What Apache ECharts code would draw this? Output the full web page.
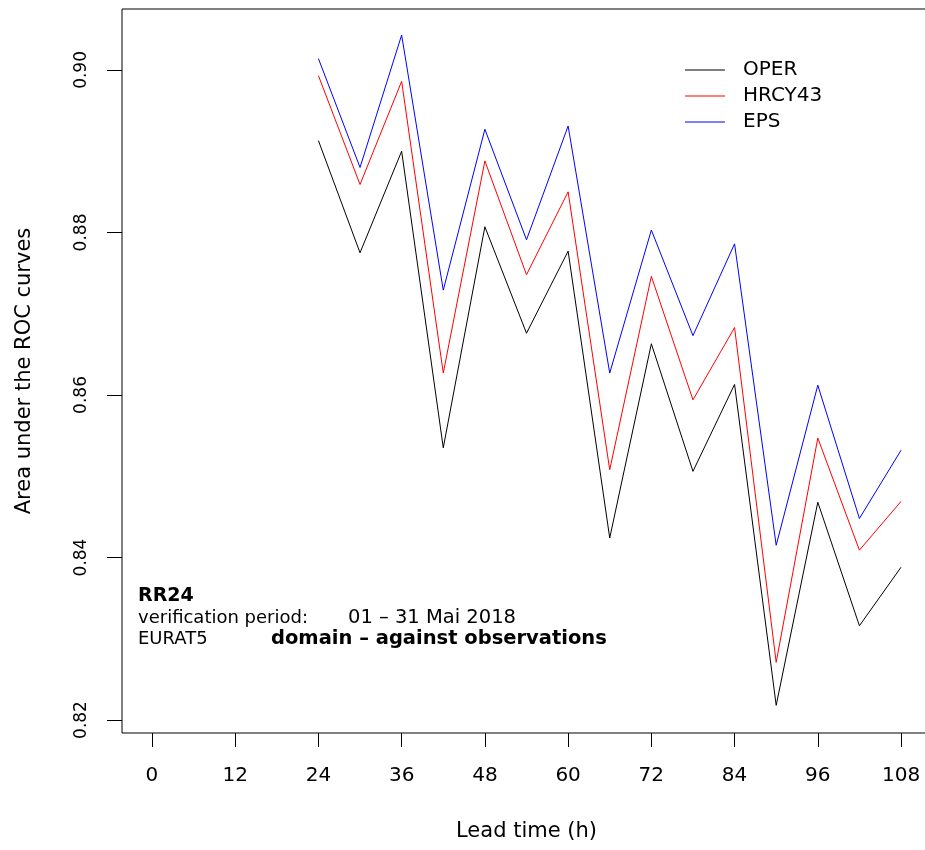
<!doctype html>
<html>
<head>
  <meta charset="UTF-8" />
  <title>ROC area - RR24</title>
  <script src="https://cdn.jsdelivr.net/npm/echarts@6.0.0/dist/echarts.min.js"></script>
  <style>
    html, body { margin: 0; padding: 0; background: #ffffff; }
    #chart { width: 925px; height: 850px; }
  </style>
</head>
<body>
  <div id="chart"></div>
  <script>
    // lead times (h) and area under ROC curve per system
    const leadTimes = [24, 30, 36, 42, 48, 54, 60, 66, 72, 78, 84, 90, 96, 102, 108];
    const oper = [0.8913, 0.8775, 0.8900, 0.8535, 0.8807, 0.8676, 0.8777, 0.8424, 0.8663, 0.8506, 0.8613, 0.8218, 0.8468, 0.8316, 0.8388];
    const hrcy43 = [0.8993, 0.8859, 0.8986, 0.8627, 0.8888, 0.8748, 0.8850, 0.8508, 0.8746, 0.8594, 0.8683, 0.8271, 0.8547, 0.8409, 0.8469];
    const eps = [0.9014, 0.8880, 0.9043, 0.8729, 0.8927, 0.8791, 0.8931, 0.8627, 0.8803, 0.8673, 0.8786, 0.8415, 0.8612, 0.8448, 0.8532];

    const seriesNames = ["OPER", "HRCY43", "EPS"];
    const seriesColors = ["#000000", "#ff0000", "#0000ff"];
    const xTicks = [0, 12, 24, 36, 48, 60, 72, 84, 96, 108];
    const yTicks = [0.82, 0.84, 0.86, 0.88, 0.90];

    const font = "DejaVu Sans, Liberation Sans, sans-serif";
    var chart = echarts.init(document.getElementById("chart"));

    const toPairs = (vals) => leadTimes.map((t, i) => [t, vals[i]]);

    // small text block in the lower left corner
    const noteText = (left, y, text, size, bold) => ({
      type: "text",
      x: left,
      y: y,
      style: {
        text: text,
        fontFamily: font,
        fontSize: size,
        fontWeight: bold ? "bold" : "normal",
        fill: "#000000",
        verticalAlign: "middle",
      },
    });

    var chartOption = {
      animation: false,
      backgroundColor: "#ffffff",
      grid: {
        left: 122,
        top: 9,
        right: -6,
        height: 724,
        show: true,
        borderColor: "#000000",
        borderWidth: 1,
        outerBoundsMode: "none",
        containLabel: false,
      },
      legend: {
        orient: "vertical",
        left: 680,
        top: 55,
        icon: "rect",
        itemWidth: 40,
        itemHeight: 1,
        itemGap: 6,
        data: seriesNames,
        textStyle: {
          fontFamily: font,
          fontSize: 20,
          color: "#000000",
          padding: [0, 0, 0, 13],
        },
      },
      xAxis: {
        type: "value",
        min: -4.32,
        max: 112.32,
        name: "Lead time (h)",
        nameLocation: "middle",
        nameGap: 88,
        nameTextStyle: { fontFamily: font, fontSize: 21, color: "#000000" },
        axisLine: { show: false, onZero: false },
        splitLine: { show: false },
        axisTick: {
          show: true,
          inside: false,
          length: 14,
          customValues: xTicks,
          lineStyle: { color: "#000000" },
        },
        axisLabel: {
          customValues: xTicks,
          margin: 33,
          fontFamily: font,
          fontSize: 20,
          color: "#000000",
        },
      },
      yAxis: {
        type: "value",
        min: 0.8184,
        max: 0.9075,
        name: "Area under the ROC curves",
        nameLocation: "middle",
        nameGap: 87,
        nameTextStyle: { fontFamily: font, fontSize: 21, color: "#000000" },
        axisLine: { show: false, onZero: false },
        splitLine: { show: false },
        axisTick: {
          show: true,
          inside: false,
          length: 15,
          customValues: yTicks,
          lineStyle: { color: "#000000" },
        },
        axisLabel: {
          customValues: yTicks,
          rotate: 90,
          margin: 32,
          fontFamily: font,
          fontSize: 17,
          color: "#000000",
          formatter: (v) => v.toFixed(2),
        },
      },
      graphic: [
        noteText(138, 596, "RR24", 19, true),
        noteText(138, 618, "verification period:", 18, false),
        noteText(348, 618, "01 – 31 Mai 2018", 19.5, false),
        noteText(138, 639, "EURAT5", 18, false),
        noteText(271, 639, "domain – against observations", 19.5, true),
      ],
      series: [oper, hrcy43, eps].map((vals, i) => ({
        name: seriesNames[i],
        type: "line",
        data: toPairs(vals),
        symbol: "none",
        lineStyle: { color: seriesColors[i], width: 1 },
        itemStyle: { color: seriesColors[i] },
      })),
    };

    chart.setOption(chartOption);
  </script>
</body>
</html>
